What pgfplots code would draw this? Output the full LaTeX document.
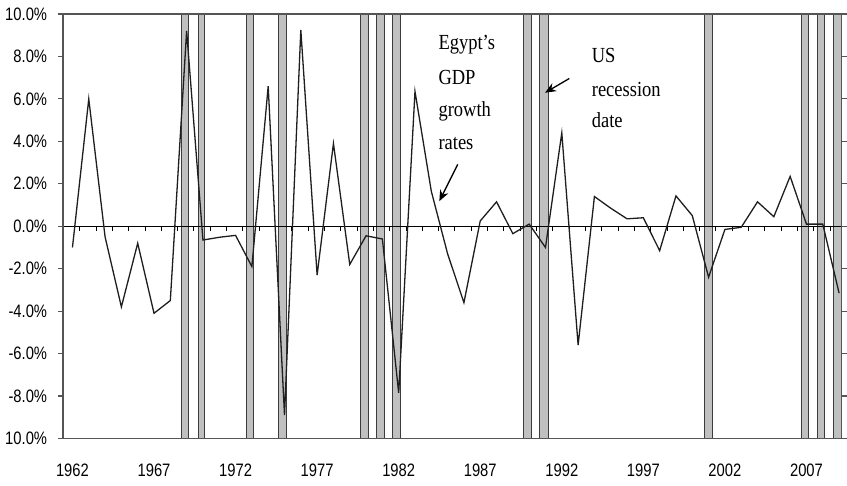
\documentclass[border=0pt]{standalone}
\usepackage{fontspec}
\setmainfont{Liberation Sans}[FakeStretch=0.82]
\newfontfamily\annfont{Liberation Serif}[FakeStretch=0.86]
\usepackage{pgfplots}
\pgfplotsset{compat=1.18}
\usetikzlibrary{arrows.meta}
\definecolor{barfill}{RGB}{192,192,192}
\definecolor{baredge}{RGB}{60,60,60}
\definecolor{framec}{RGB}{85,85,85}
\definecolor{linec}{RGB}{30,30,30}

\pgfplotstableread{
year gdp
1962 -1.0
1963 6.0
1964 -0.5
1965 -3.8
1966 -0.8
1967 -4.1
1968 -3.5
1969 9.2
1970 -0.65
1971 -0.52
1972 -0.43
1973 -1.9
1974 6.6
1975 -8.9
1976 9.25
1977 -2.3
1978 3.9
1979 -1.8
1980 -0.45
1981 -0.6
1982 -7.85
1983 6.35
1984 1.65
1985 -1.3
1986 -3.6
1987 0.25
1988 1.15
1989 -0.35
1990 0.1
1991 -1.0
1992 4.4
1993 -5.6
1994 1.4
1995 0.85
1996 0.35
1997 0.4
1998 -1.15
1999 1.43
2000 0.5
2001 -2.4
2002 -0.15
2003 -0.05
2004 1.15
2005 0.45
2006 2.35
2007 0.1
2008 0.1
2009 -3.15
}\gdptable

\begin{document}
\begin{tikzpicture}
\useasboundingbox (-63pt,-47.5pt) rectangle (784pt,438.5pt);
\begin{axis}[
  at={(0,0)}, anchor=south west,
  scale only axis, width=778.7pt, height=424.5pt,
  xmin=1961.42, xmax=2009.16, ymin=-10, ymax=10,
  axis line style={draw=framec, line width=1.3pt},
  axis on top,
  xtick={1962,1967,1972,1977,1982,1987,1992,1997,2002,2007},
  xticklabels={1962,1967,1972,1977,1982,1987,1992,1997,2002,2007},
  xtick style={draw=none},
  xtick align=inside,
  ytick={-10,-8,-6,-4,-2,0,2,4,6,8,10},
  yticklabels={10.0\%,-8.0\%,-6.0\%,-4.0\%,-2.0\%,0.0\%,2.0\%,4.0\%,6.0\%,8.0\%,10.0\%},
  ytick align=outside,
  major tick length=5pt,
  ytick style={draw=framec, line width=1.2pt},
  tick label style={font=\fontsize{18pt}{20pt}\selectfont, text=black, inner sep=0pt},
  yticklabel style={anchor=east, xshift=-10.7pt},
  xticklabel style={anchor=base, yshift=-38pt},
]
% US recession bars
\addplot[fill=barfill, draw=baredge, line width=1pt] coordinates {(1968.68,-10) (1969.13,-10) (1969.13,10) (1968.68,10)} -- cycle;
\addplot[fill=barfill, draw=baredge, line width=1pt] coordinates {(1969.70,-10) (1970.11,-10) (1970.11,10) (1969.70,10)} -- cycle;
\addplot[fill=barfill, draw=baredge, line width=1pt] coordinates {(1972.67,-10) (1973.12,-10) (1973.12,10) (1972.67,10)} -- cycle;
\addplot[fill=barfill, draw=baredge, line width=1pt] coordinates {(1974.61,-10) (1975.12,-10) (1975.12,10) (1974.61,10)} -- cycle;
\addplot[fill=barfill, draw=baredge, line width=1pt] coordinates {(1979.67,-10) (1980.12,-10) (1980.12,10) (1979.67,10)} -- cycle;
\addplot[fill=barfill, draw=baredge, line width=1pt] coordinates {(1980.64,-10) (1981.11,-10) (1981.11,10) (1980.64,10)} -- cycle;
\addplot[fill=barfill, draw=baredge, line width=1pt] coordinates {(1981.63,-10) (1982.12,-10) (1982.12,10) (1981.63,10)} -- cycle;
\addplot[fill=barfill, draw=baredge, line width=1pt] coordinates {(1989.64,-10) (1990.15,-10) (1990.15,10) (1989.64,10)} -- cycle;
\addplot[fill=barfill, draw=baredge, line width=1pt] coordinates {(1990.62,-10) (1991.17,-10) (1991.17,10) (1990.62,10)} -- cycle;
\addplot[fill=barfill, draw=baredge, line width=1pt] coordinates {(2000.72,-10) (2001.23,-10) (2001.23,10) (2000.72,10)} -- cycle;
\addplot[fill=barfill, draw=baredge, line width=1pt] coordinates {(2006.68,-10) (2007.13,-10) (2007.13,10) (2006.68,10)} -- cycle;
\addplot[fill=barfill, draw=baredge, line width=1pt] coordinates {(2007.68,-10) (2008.10,-10) (2008.10,10) (2007.68,10)} -- cycle;
\addplot[fill=barfill, draw=baredge, line width=1pt] coordinates {(2008.66,-10) (2009.13,-10) (2009.13,10) (2008.66,10)} -- cycle;
% zero line with category ticks
\addplot[draw=black, line width=1.3pt, no marks] coordinates {(1961.42,0) (2009.16,0)};
\addplot[ycomb, draw=black, line width=1pt, no marks] coordinates {
(1962.45,-0.235) (1963.45,-0.235) (1964.45,-0.235) (1965.45,-0.235) (1966.45,-0.235)
(1967.45,-0.235) (1968.45,-0.235) (1969.45,-0.235) (1970.45,-0.235) (1971.45,-0.235)
(1972.45,-0.235) (1973.45,-0.235) (1974.45,-0.235) (1975.45,-0.235) (1976.45,-0.235)
(1977.45,-0.235) (1978.45,-0.235) (1979.45,-0.235) (1980.45,-0.235) (1981.45,-0.235)
(1982.45,-0.235) (1983.45,-0.235) (1984.45,-0.235) (1985.45,-0.235) (1986.45,-0.235)
(1987.45,-0.235) (1988.45,-0.235) (1989.45,-0.235) (1990.45,-0.235) (1991.45,-0.235)
(1992.45,-0.235) (1993.45,-0.235) (1994.45,-0.235) (1995.45,-0.235) (1996.45,-0.235)
(1997.45,-0.235) (1998.45,-0.235) (1999.45,-0.235) (2000.45,-0.235) (2001.45,-0.235)
(2002.45,-0.235) (2003.45,-0.235) (2004.45,-0.235) (2005.45,-0.235) (2006.45,-0.235)
(2007.45,-0.235) (2008.45,-0.235)};
% Egypt GDP growth
\addplot[draw=linec, line width=1.3pt, no marks] table[x=year, y=gdp] {\gdptable};
% annotations
\begin{scope}[every node/.style={anchor=base west, inner sep=0pt, font=\annfont\fontsize{21.5pt}{24pt}\selectfont}]
\node at (axis cs:1984.43,8.33) {Egypt’s};
\node at (axis cs:1984.43,6.68) {GDP};
\node at (axis cs:1984.43,5.18) {growth};
\node at (axis cs:1984.43,3.61) {rates};
\node at (axis cs:1993.83,7.70) {US};
\node at (axis cs:1993.83,6.13) {recession};
\node at (axis cs:1993.83,4.64) {date};
\end{scope}
\draw[-{Stealth[length=11pt,width=9pt]}, line width=1.3pt] (axis cs:1985.62,2.91) -- (axis cs:1984.49,1.18);
\draw[-{Stealth[length=11pt,width=9pt]}, line width=1.3pt] (axis cs:1992.46,6.96) -- (axis cs:1990.97,6.29);
\end{axis}
\end{tikzpicture}
\end{document}
